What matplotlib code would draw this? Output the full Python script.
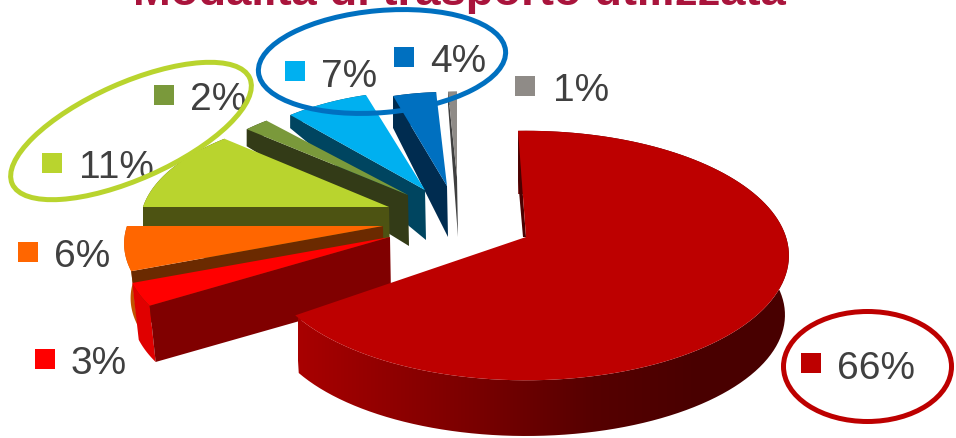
import numpy as np
import matplotlib
matplotlib.use('Agg')
import matplotlib.pyplot as plt
from matplotlib.collections import PolyCollection
from matplotlib.colors import LinearSegmentedColormap
from matplotlib.patches import Ellipse, Polygon, Rectangle

plt.rcParams['font.family'] = ['Liberation Sans', 'DejaVu Sans']

title = 'Modalità di trasporto utilizzata'

# Share of each transport mode, clockwise from the top of the pie
labels = ['66%', '3%', '6%', '11%', '2%', '7%', '4%', '1%']
values = [66, 3, 6, 11, 2, 7, 4, 1]

# Colours of each slice: top face, radial wall
top_colors = ['#bd0000', '#ff0000', '#ff6600', '#b9d42e', '#7a993b', '#00b0f0', '#0070c0', '#8f8b87']
wall_colors = ['#4a0000', '#800000', '#6b2a00', '#4d5312', '#333b17', '#004560', '#002c50', '#404040']
rim_colors = [None, '#e00000', '#c25200', '#4d5312', '#333b17', '#004560', '#002c50', '#404040']

# Layout of each exploded slice in pixels
apex_x = [526, 390, 383, 389, 408, 425, 447, 457]
apex_y = [237, 237, 226, 207, 195, 190, 186, 177]
rad_x = [260, 262, 256, 246, 229, 218, 199, 164]
rad_y = [122, 118, 116, 111, 113, 114, 108, 98]
turn_start = [-2, 0, 0, 0, 0, 0, 0, 0]
turn_end = [-3.5, 0, 0, 3, 0, 0, 0, 0]
depth = [60, 58, 55, 51, 51, 50, 51, 60]
low_sx = [0.985, 0.975, 0.975, 1, 1, 1, 1, 1]
low_sy = [0.97, 0.975, 0.975, 1, 1.515, 1.49, 1.21, 1.55]

# Where the legend square and the label of each slice go
mark_x = [801, 35, 18, 42, 154, 285, 394, 515]
mark_y = [353, 349, 242, 153, 85, 61, 47, 76]
text_x = [837, 71, 54, 79, 190, 321, 430, 553]
text_y = [379, 374, 267, 178, 110, 87, 72, 101]

# Perspective of the disc, the front is bigger than the back
persp = 0.1486


def top_points(i, theta):
    f = 1 / (1 + persp * np.cos(theta))
    x = apex_x[i] + rad_x[i] * np.sin(theta) * f
    y = apex_y[i] - rad_y[i] * np.cos(theta) * f
    return x, y


def low_points(i, x, y):
    lx = apex_x[i] + low_sx[i] * (x - apex_x[i])
    ly = apex_y[i] + depth[i] + low_sy[i] * (y - apex_y[i])
    return lx, ly


def draw_slice(ax, i, t1, t2):
    theta = np.radians(np.linspace(t1, t2, 120))
    x, y = top_points(i, theta)
    lx, ly = low_points(i, x, y)

    # outer rim, the big slice gets a gradient clipped to the rim shape
    rim = list(zip(x, y)) + list(zip(lx[::-1], ly[::-1]))
    if i == 0:
        rim_patch = Polygon(rim, closed=True, facecolor='none', edgecolor='none')
        ax.add_patch(rim_patch)
        cmap = LinearSegmentedColormap.from_list('rim', [(0, '#a80000'), (0.37, '#780000'),
                                                         (0.6, '#560000'), (0.8, '#4a0000'), (1, '#480000')])
        im = ax.imshow(np.linspace(0, 1, 256).reshape(1, -1), extent=(298, 790, 438, 130), cmap=cmap,
                       aspect='auto', interpolation='bilinear', zorder=1)
        im.set_clip_path(rim_patch)
    else:
        ax.add_collection(PolyCollection([rim], facecolors=rim_colors[i], edgecolors='none'))

    # radial wall on the first edge of the slice
    if i == 0:
        wall = [(apex_x[i], apex_y[i]), (x[0], y[0]), (x[0], y[0] + 50), (apex_x[i] - 3, apex_y[i])]
    else:
        wall = [(apex_x[i], apex_y[i]), (x[0], y[0]), (lx[0], ly[0]), (apex_x[i] + 1, apex_y[i] + depth[i])]
    ax.add_patch(Polygon(wall, closed=True, facecolor=wall_colors[i], edgecolor='none', zorder=1))

    # top face
    face = [(apex_x[i], apex_y[i])] + list(zip(x, y))
    ax.add_patch(Polygon(face, closed=True, facecolor=top_colors[i], edgecolor='none', zorder=1))


fig = plt.figure(figsize=(9.56, 4.38), dpi=100)
ax = fig.add_axes([0, 0, 1, 1])

# slice angles come from the values
ends = np.cumsum(values) / sum(values) * 360
starts = np.concatenate([[0], ends[:-1]])

# back slices first, the big slice goes on top of everything
for i in [7, 6, 5, 4, 3, 2, 1, 0]:
    draw_slice(ax, i, starts[i] + turn_start[i], ends[i] + turn_end[i])

ax.set_xlim(0, 956)
ax.set_ylim(438, 0)
ax.axis('off')

for i in range(len(values)):
    ax.add_patch(Rectangle((mark_x[i], mark_y[i]), 20, 20, facecolor=top_colors[i], edgecolor='none', zorder=3))
    ax.text(text_x[i], text_y[i], labels[i], fontsize=28, color='#404040', ha='left', va='baseline', zorder=3)

# rings around the groups
ax.add_patch(Ellipse((131, 131), 260, 96, angle=-24, fill=False, edgecolor='#b9d42e', linewidth=3.6, zorder=4))
ax.add_patch(Ellipse((382, 61.5), 248, 102, angle=-5, fill=False, edgecolor='#0070c0', linewidth=3.6, zorder=4))
ax.add_patch(Ellipse((867.5, 366.5), 168, 110, fill=False, edgecolor='#bd0000', linewidth=3.6, zorder=4))

ax.text(459, 5, title, fontsize=32.7, fontweight='bold', color='#a9143c', ha='center', va='baseline', zorder=3)

fig.savefig('out.png', dpi=100)
